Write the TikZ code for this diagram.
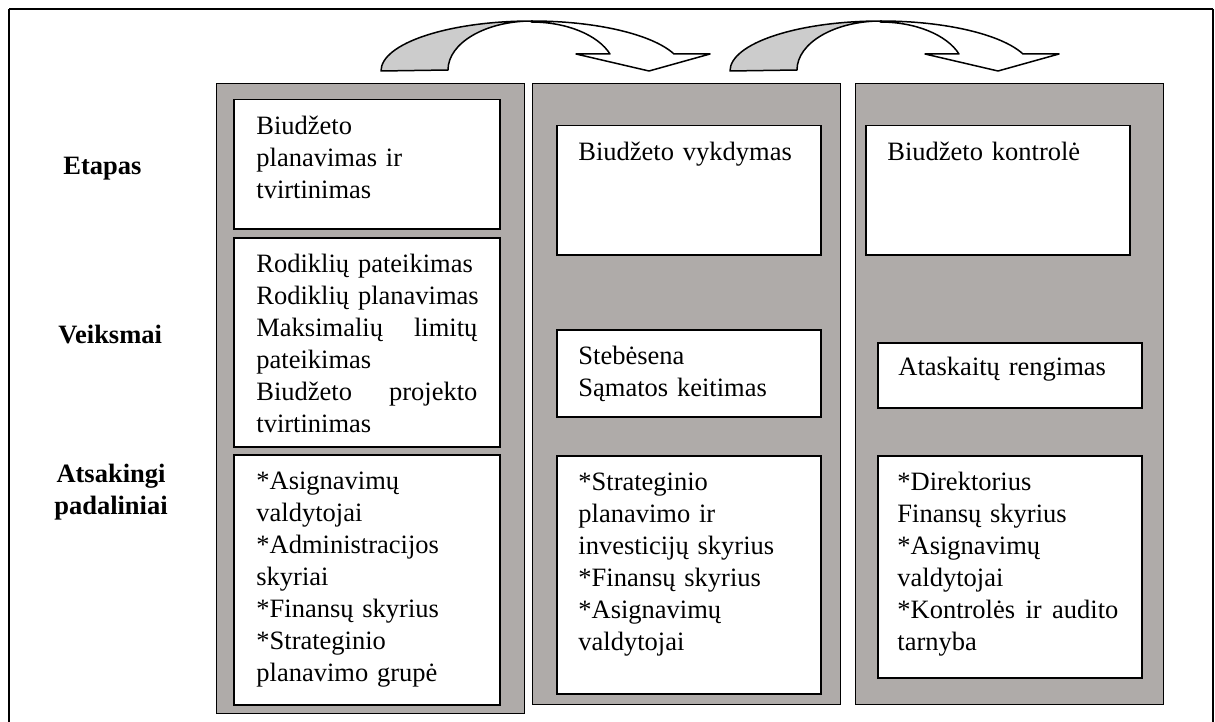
\documentclass[tikz,border=0pt]{standalone}
\usepackage{fontspec}
\setmainfont{Liberation Serif}
\definecolor{panelgray}{RGB}{175,171,169}
\definecolor{arrowgray}{RGB}{204,204,204}
\hyphenpenalty=10000
\exhyphenpenalty=10000
% strut that fixes the height of the first line of every text block
\newcommand\firstline{\rule{0pt}{10pt}}
% a line set flush to both margins of a cell (words separated by \hfill)
\newcommand\fullline[1]{\leavevmode\hbox to 110.5pt{#1}}

\begin{document}
\begin{tikzpicture}[x=0.5pt,y=-0.5pt,
  panel/.style={draw=black, line width=0.6pt, fill=panelgray, anchor=north west, inner sep=0pt},
  cell/.style={draw=black, line width=0.75pt, fill=white, anchor=north west, inner sep=0pt},
  celltext/.style={anchor=north west, inner sep=0pt, text width=118pt, align=left,
                   font=\fontsize{13.25}{16}\selectfont},
  rowlabel/.style={inner sep=0pt, align=center, font=\fontsize{13.25}{16}\selectfont\bfseries},
  ribbonback/.style={draw=black, line width=0.75pt, fill=arrowgray, line join=round},
  ribbonfront/.style={draw=black, line width=0.75pt, fill=white, line join=round}]

\useasboundingbox (0,0) rectangle (1215,722);

% outer frame (open at the bottom)
\draw[line width=0.6pt] (9,722) -- (9,9);
\draw[line width=0.6pt] (1213,9) -- (1213,722);
\draw[line width=1pt] (9,9) -- (1213,9);

% row labels
\node[rowlabel, anchor=north west] (lEtapas) at (63,154) {\firstline Etapas};
\node[rowlabel, anchor=north west] (lVeiksmai) at (58,323) {\firstline Veiksmai};
\node[rowlabel, anchor=north] (lAtsakingi) at (111,462) {\firstline Atsakingi\\padaliniai};

% grey stage panels
\node[panel, minimum width=154pt, minimum height=315pt] (p1) at (216,83) {};
\node[panel, minimum width=154pt, minimum height=310.5pt] (p2) at (532,83) {};
\node[panel, minimum width=154pt, minimum height=310.5pt] (p3) at (855,83) {};

% stage 1 cells
\node[cell, minimum width=133pt, minimum height=64.5pt] (a1) at (233,99) {};
\node[cell, minimum width=133pt, minimum height=104.5pt] (b1) at (233,237) {};
\node[cell, minimum width=133pt, minimum height=125pt] (c1) at (233,454) {};
% stage 2 cells
\node[cell, minimum width=132pt, minimum height=64.5pt] (a2) at (556,125) {};
\node[cell, minimum width=132pt, minimum height=43.5pt] (b2) at (556,329) {};
\node[cell, minimum width=132pt, minimum height=119pt] (c2) at (556,455) {};
% stage 3 cells
\node[cell, minimum width=132pt, minimum height=64.5pt] (a3) at (865,125) {};
\node[cell, minimum width=132pt, minimum height=32.5pt] (b3) at (877,342) {};
\node[cell, minimum width=132pt, minimum height=111pt] (c3) at (877,455) {};

% cell texts
\node[celltext] (ta1) at ([xshift=11.5pt,yshift=-7.5pt]a1.north west)
  {\firstline Biudžeto\\planavimas ir\\tvirtinimas};
\node[celltext] (tb1) at ([xshift=11.5pt,yshift=-7.5pt]b1.north west)
  {\firstline Rodiklių pateikimas\\Rodiklių planavimas\\\fullline{Maksimalių\hfill limitų}\\pateikimas\\\fullline{Biudžeto\hfill projekto}\\tvirtinimas};
\node[celltext] (tc1) at ([xshift=11.5pt,yshift=-7.5pt]c1.north west)
  {\firstline *Asignavimų\\valdytojai\\{}*Administracijos\\skyriai\\{}*Finansų skyrius\\{}*Strateginio\\planavimo grupė};

\node[celltext] (ta2) at ([xshift=11pt,yshift=-7.5pt]a2.north west)
  {\firstline Biudžeto vykdymas};
\node[celltext] (tb2) at ([xshift=11pt,yshift=-7.5pt]b2.north west)
  {\firstline Stebėsena\\Sąmatos keitimas};
\node[celltext] (tc2) at ([xshift=11pt,yshift=-7.5pt]c2.north west)
  {\firstline *Strateginio\\planavimo ir\\investicijų skyrius\\{}*Finansų skyrius\\{}*Asignavimų\\valdytojai};

\node[celltext] (ta3) at ([xshift=11pt,yshift=-7.5pt]a3.north west)
  {\firstline Biudžeto kontrolė};
\node[celltext] (tb3) at ([xshift=10.5pt,yshift=-6.5pt]b3.north west)
  {\firstline Ataskaitų rengimas};
\node[celltext] (tc3) at ([xshift=10pt,yshift=-7.5pt]c3.north west)
  {\firstline *Direktorius\\Finansų skyrius\\{}*Asignavimų\\valdytojai\\\fullline{*Kontrolės\hfill ir\hfill audito}\\tarnyba};

% curved arrows between stages
\foreach \dx/\nm in {0/one, 349/two} {
  \begin{scope}[xshift=\dx*0.5pt]
    \coordinate (\nm-footL) at (381,71);
    \coordinate (\nm-top) at (532,21);
    \coordinate (\nm-barbR) at (710,54);
    \coordinate (\nm-tip) at (649,71);
    \coordinate (\nm-barbL) at (576,54);
    \coordinate (\nm-inner) at (610,54);
    % back face of the ribbon
    \draw[ribbonback] (\nm-footL)
      arc[start angle=180, end angle=90, x radius=75.5pt, y radius=25pt]
      arc[start angle=90, end angle=180, x radius=42pt, y radius=24.5pt] -- cycle;
    % front face with the arrow head
    \draw[ribbonfront] (\nm-top)
      arc[start angle=90, end angle=19.9, x radius=75.5pt, y radius=25pt]
      -- (\nm-barbR) -- (\nm-tip) -- (\nm-barbL) -- (\nm-inner)
      arc[start angle=20.3, end angle=90, x radius=42pt, y radius=24.5pt] -- cycle;
  \end{scope}
}
\end{tikzpicture}
\end{document}
